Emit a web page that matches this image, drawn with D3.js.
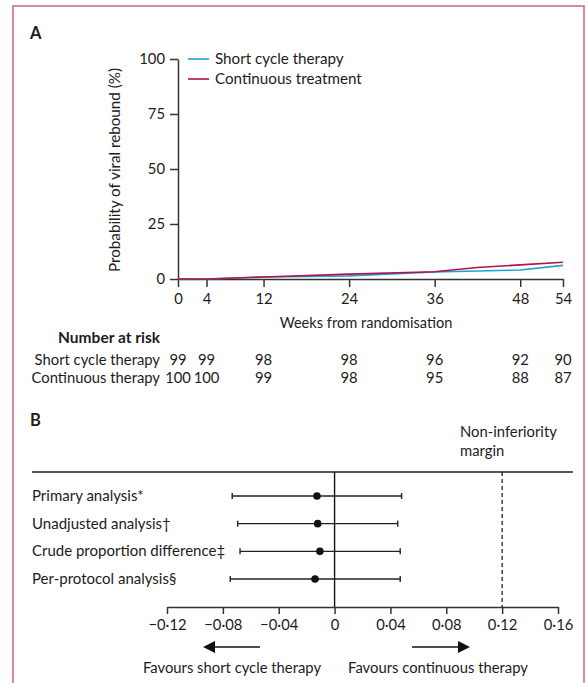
<!DOCTYPE html>
<html>
<head>
<meta charset="utf-8">
<script src="https://cdn.jsdelivr.net/npm/d3@7"></script>
<style>
  html, body { margin: 0; padding: 0; background: #fff; }
  svg { display: block; }
  text { font-family: Lato, "Open Sans", sans-serif; fill: #1e1b1c; }
</style>
</head>
<body>
<svg id="chart" width="587" height="683"></svg>
<script>
// ---------- Data: panel A ----------
const weekTicks = [0, 4, 12, 24, 36, 48, 54];
const yTicks = [0, 25, 50, 75, 100];
const seriesNames = ["Short cycle therapy", "Continuous treatment"];
const shortWeeks = [0, 4, 12, 24, 36, 48, 54];
const shortRebound = [0, 0, 0.9, 1.4, 3.2, 4.1, 6.2];
const contWeeks = [0, 4, 12, 24, 36, 42, 48, 54];
const contRebound = [0, 0, 0.9, 2.2, 3.3, 5.2, 6.4, 7.6];
const riskGroups = ["Short cycle therapy", "Continuous therapy"];
const shortRisk = [99, 99, 98, 98, 96, 92, 90];
const contRisk = [100, 100, 99, 98, 95, 88, 87];

// ---------- Data: panel B ----------
const analyses = ["Primary analysis*", "Unadjusted analysis\u2020", "Crude proportion difference\u2021", "Per-protocol analysis\u00a7"];
const estimates = [-0.0126, -0.0121, -0.0105, -0.0140];
const lowerCI = [-0.0733, -0.0694, -0.0677, -0.0747];
const upperCI = [0.0480, 0.0452, 0.0470, 0.0470];
const forestTicks = [-0.12, -0.08, -0.04, 0, 0.04, 0.08, 0.12, 0.16];
const nonInferiorityMargin = 0.12;

const colShort = "#1aa3d3";
const colCont = "#b3124a";
const axisCol = "#333";

const svg = d3.select("#chart");

// frame
svg.append("rect").attr("x", 13).attr("y", 6).attr("width", 571).attr("height", 720)
  .attr("fill", "none").attr("stroke", "#d26a8b").attr("stroke-width", 1.6);

// panel letters
svg.append("text").attr("x", 30).attr("y", 39).attr("font-size", 16.5).attr("font-weight", 700).text("A");
svg.append("text").attr("x", 30).attr("y", 426).attr("font-size", 16.5).attr("font-weight", 700).text("B");

// ---------- Panel A ----------
const x = d3.scaleLinear().domain([0, 54]).range([178, 563]);
const y = d3.scaleLinear().domain([0, 100]).range([279, 59]);

const xAxis = svg.append("g").attr("transform", `translate(0,${y(0)})`)
  .call(d3.axisBottom(x).tickValues(weekTicks).tickSize(8).tickSizeOuter(0).tickPadding(6));
const yAxis = svg.append("g").attr("transform", `translate(${x(0)},0)`)
  .call(d3.axisLeft(y).tickValues(yTicks).tickSize(8).tickSizeOuter(0).tickPadding(5));
[xAxis, yAxis].forEach(g => {
  g.selectAll("path,line").attr("stroke", axisCol).attr("stroke-width", 1.5);
  g.selectAll("text").attr("font-size", 14.8).attr("font-family", "Lato").attr("fill", "#1e1b1c");
});

svg.append("text").attr("transform", `translate(120,170) rotate(-90)`)
  .attr("text-anchor", "middle").attr("font-size", 15.2).text("Probability of viral rebound (%)");
svg.append("text").attr("x", 366).attr("y", 328).attr("text-anchor", "middle")
  .attr("font-size", 14.6).text("Weeks from randomisation");

const line = d3.line().x(d => x(d[0])).y(d => y(d[1]));
svg.append("path").datum(d3.zip(shortWeeks, shortRebound)).attr("d", line)
  .attr("fill", "none").attr("stroke", colShort).attr("stroke-width", 1.6);
svg.append("path").datum(d3.zip(contWeeks, contRebound)).attr("d", line)
  .attr("fill", "none").attr("stroke", colCont).attr("stroke-width", 1.6);

// legend
[colShort, colCont].forEach((c, i) => {
  const ly = 59 + i * 20;
  svg.append("line").attr("x1", 188).attr("x2", 209).attr("y1", ly).attr("y2", ly)
    .attr("stroke", c).attr("stroke-width", 1.6);
  svg.append("text").attr("x", 215).attr("y", ly + 5).attr("font-size", 15.2).text(seriesNames[i]);
});

// number at risk
svg.append("text").attr("x", 160).attr("y", 343).attr("text-anchor", "end")
  .attr("font-size", 15.5).attr("font-weight", 700).text("Number at risk");
[shortRisk, contRisk].forEach((arr, i) => {
  const ry = 365 + i * 18;
  svg.append("text").attr("x", 160).attr("y", ry).attr("text-anchor", "end")
    .attr("font-size", 14.8).text(riskGroups[i]);
  svg.selectAll(null).data(arr).enter().append("text")
    .attr("x", (d, j) => x(weekTicks[j])).attr("y", ry).attr("text-anchor", "middle")
    .attr("font-size", 14.8).text(d => d);
});

// ---------- Panel B ----------
const fx = d3.scaleLinear().domain([-0.12, 0.16]).range([167, 558]);
const fy = d3.scalePoint().domain(analyses).range([496, 579]);
const topY = 472, axisY = 607;

svg.append("line").attr("x1", 32).attr("x2", 573).attr("y1", topY).attr("y2", topY)
  .attr("stroke", "#555").attr("stroke-width", 1.8);

svg.append("text").attr("x", 460).attr("y", 437).attr("font-size", 14.8).text("Non-inferiority");
svg.append("text").attr("x", 460).attr("y", 456).attr("font-size", 14.8).text("margin");

const fmt = v => (v === 0 ? "0" : d3.format(".2f")(v).replace("0.", "0\u00b7").replace("-", "\u2013"));
const fAxis = svg.append("g").attr("transform", `translate(0,${axisY})`)
  .call(d3.axisBottom(fx).tickValues(forestTicks).tickFormat(fmt).tickSize(7).tickSizeOuter(0).tickPadding(5));
fAxis.selectAll("path,line").attr("stroke", axisCol).attr("stroke-width", 1.5);
fAxis.selectAll("text").attr("font-size", 14.8).attr("font-family", "Lato").attr("fill", "#1e1b1c");

svg.append("line").attr("x1", fx(0)).attr("x2", fx(0)).attr("y1", topY).attr("y2", axisY)
  .attr("stroke", "#111").attr("stroke-width", 1.4);
svg.append("line").attr("x1", fx(nonInferiorityMargin)).attr("x2", fx(nonInferiorityMargin))
  .attr("y1", topY).attr("y2", axisY).attr("stroke", "#111").attr("stroke-width", 1.2)
  .attr("stroke-dasharray", "4,3");

analyses.forEach((a, i) => {
  const ry = fy(a);
  svg.append("text").attr("x", 32).attr("y", ry + 5).attr("font-size", 15).text(a);
  svg.append("line").attr("x1", fx(lowerCI[i])).attr("x2", fx(upperCI[i])).attr("y1", ry).attr("y2", ry)
    .attr("stroke", "#222").attr("stroke-width", 1.4);
  [lowerCI[i], upperCI[i]].forEach(v => {
    svg.append("line").attr("x1", fx(v)).attr("x2", fx(v)).attr("y1", ry - 3).attr("y2", ry + 3)
      .attr("stroke", "#222").attr("stroke-width", 1.4);
  });
  svg.append("circle").attr("cx", fx(estimates[i])).attr("cy", ry).attr("r", 3.8).attr("fill", "#111");
});

// arrows
const ay = 647;
svg.append("line").attr("x1", 260).attr("x2", 212).attr("y1", ay).attr("y2", ay).attr("stroke", "#111").attr("stroke-width", 1.5);
svg.append("path").attr("d", `M203,${ay} L215,${ay - 6} L215,${ay + 6} Z`).attr("fill", "#111");
svg.append("line").attr("x1", 412).attr("x2", 461).attr("y1", ay).attr("y2", ay).attr("stroke", "#111").attr("stroke-width", 1.5);
svg.append("path").attr("d", `M470,${ay} L458,${ay - 6} L458,${ay + 6} Z`).attr("fill", "#111");

svg.append("text").attr("x", 232).attr("y", 673).attr("text-anchor", "middle").attr("font-size", 14.8).text("Favours short cycle therapy");
svg.append("text").attr("x", 438).attr("y", 673).attr("text-anchor", "middle").attr("font-size", 14.8).text("Favours continuous therapy");
</script>
</body>
</html>
